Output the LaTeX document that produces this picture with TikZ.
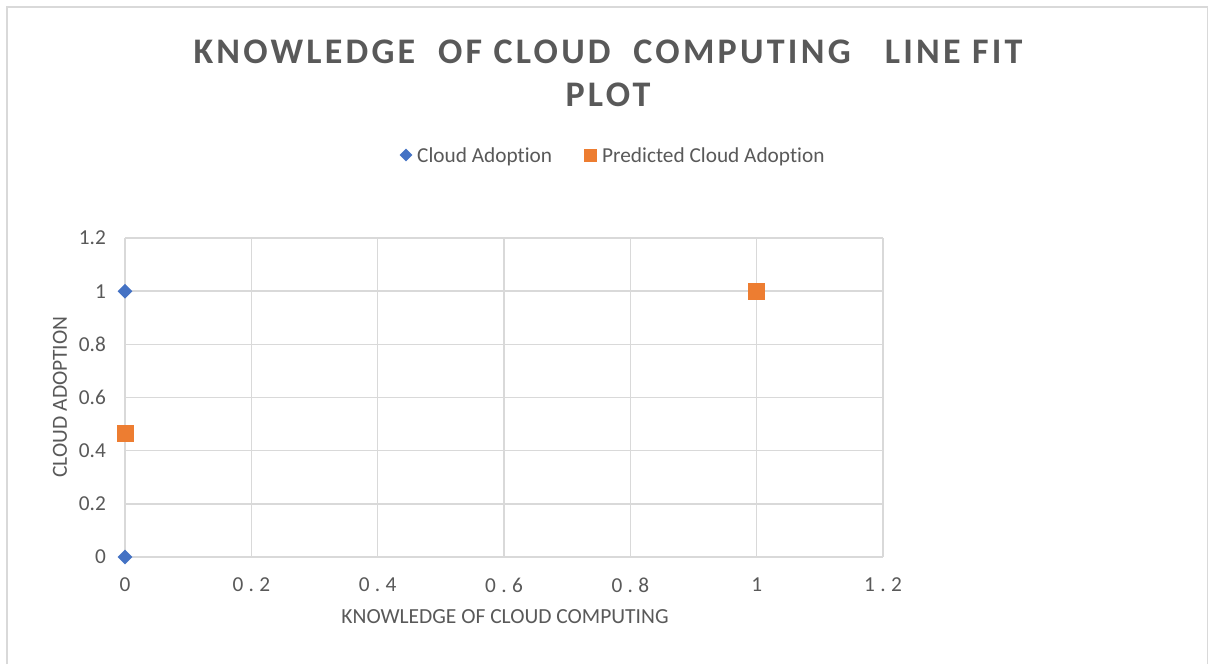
\documentclass[tikz,border=0pt]{standalone}
\usepackage{fontspec}
\usetikzlibrary{shapes.geometric}
\setmainfont{Carlito}[Ligatures=NoCommon]
\newfontfamily\titlefont{Carlito}[LetterSpace=9,Ligatures=NoCommon]
\newfontfamily\tickfont{Carlito}[LetterSpace=25,Ligatures=NoCommon]
\definecolor{txt}{HTML}{595959}
\definecolor{gridc}{HTML}{D9D9D9}
\definecolor{framec}{HTML}{D9D9D9}
\definecolor{blu}{HTML}{4472C4}
\definecolor{org}{HTML}{ED7D31}
\tikzset{
  gridline/.style={draw=gridc, line width=1.6pt},
  seriesA/.style={diamond, fill=blu, minimum size=15pt, inner sep=0pt},
  seriesB/.style={rectangle, fill=org, minimum size=17pt, inner sep=0pt},
  legA/.style={diamond, fill=blu, minimum size=13pt, inner sep=0pt},
  legB/.style={rectangle, fill=org, minimum size=13pt, inner sep=0pt},
  ytick/.style={anchor=east, text=txt, font=\fontsize{21.3}{24}\selectfont, inner sep=0pt},
  xtick/.style={anchor=center, text=txt, font=\tickfont\fontsize{21.3}{24}\selectfont, inner sep=0pt},
  axistitle/.style={text=txt, font=\fontsize{21.5}{24}\selectfont, inner sep=0pt},
  legtext/.style={anchor=base west, text=txt, font=\fontsize{21.3}{24}\selectfont, inner sep=0pt},
  titletext/.style={anchor=base, text=txt, font=\titlefont\bfseries\fontsize{36}{40}\selectfont, inner sep=0pt}
}
\begin{document}
\begin{tikzpicture}[x=1pt, y=-1pt]
\useasboundingbox (0,0) rectangle (1209,664);
\fill[white] (0,0) rectangle (1209,664);
% chart frame (open at the bottom)
\draw[framec, line width=1.5pt] (7,664) -- (7,7) -- (1207.5,7) -- (1207.5,664);

% title
\node[titletext] (title1) at (608,63) {KNOWLEDGE\ \ OF CLOUD\ \ COMPUTING\ \ \ LINE FIT};
\node[titletext] (title2) at (608,106) {PLOT};

% legend
\node[legA] (legmarkA) at (406,155) {};
\node[legtext] (legtextA) at (417,162) {Cloud Adoption};
\node[legB] (legmarkB) at (590,155) {};
\node[legtext] (legtextB) at (602,162) {Predicted Cloud Adoption};

% plot area in data units
\begin{scope}[shift={(125,557)}, x=631.67pt, y=265.83pt]
  \foreach \i in {0,...,6} {
    \pgfmathsetmacro{\v}{\i*0.2}
    \draw[gridline] (\v,0) -- (\v,1.2);
    \draw[gridline] (0,\v) -- (1.2,\v);
  }
  \foreach \v/\lab [count=\i] in {0/0,0.2/0.2,0.4/0.4,0.6/0.6,0.8/0.8,1/1,1.2/1.2} {
    \node[ytick] (yt\i) at (-0.03,\v) {\lab};
    \node[xtick] (xt\i) at (\v,-0.105) {\lab};
  }
  \node[seriesB] (pred1) at (0,0.466) {};
  \node[seriesB] (pred2) at (1,1) {};
  \node[seriesA] (obs1) at (0,1) {};
  \node[seriesA] (obs2) at (0,0) {};
\end{scope}

% axis titles
\node[axistitle] (xtitle) at (505,617) {KNOWLEDGE OF CLOUD COMPUTING};
\node[axistitle, rotate=90] (ytitle) at (60,397) {CLOUD ADOPTION};
\end{tikzpicture}
\end{document}
